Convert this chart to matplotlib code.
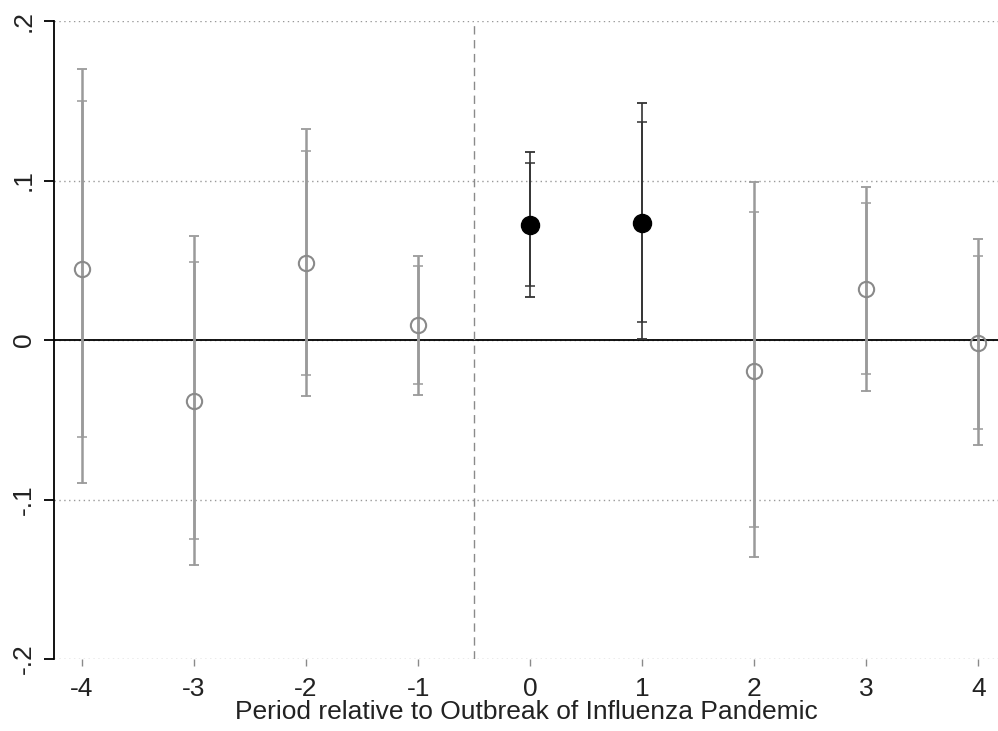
import matplotlib
matplotlib.use("Agg")
import matplotlib.pyplot as plt
import numpy as np

plt.rcParams['font.family'] = ['Liberation Sans', 'DejaVu Sans']

periods = [-4, -3, -2, -1, 0, 1, 2, 3, 4]
coef = [0.0447, -0.0380, 0.0483, 0.0094, 0.0723, 0.0736, -0.0192, 0.0320, -0.0017]
ci95_low = [-0.0895, -0.1410, -0.0353, -0.0345, 0.0270, 0.0006, -0.1363, -0.0320, -0.0658]
ci95_high = [0.1697, 0.0654, 0.1323, 0.0529, 0.1180, 0.1484, 0.0993, 0.0961, 0.0631]
ci90_low = [-0.0606, -0.1248, -0.0221, -0.0278, 0.0340, 0.0111, -0.1175, -0.0215, -0.0558]
ci90_high = [0.1500, 0.0491, 0.1187, 0.0464, 0.1108, 0.1369, 0.0803, 0.0861, 0.0529]
significant = [False, False, False, False, True, True, False, False, False]
y_ticks = [-0.2, -0.1, 0.0, 0.1, 0.2]
y_ticklabels = ['-.2', '-.1', '0', '.1', '.2']
xlabel = 'Period relative to Outbreak of Influenza Pandemic'

W, H = 998, 731
fig = plt.figure(figsize=(W / 100, H / 100), dpi=100)
ax = fig.add_axes([54 / W, 1 - 659 / H, 1 - 54 / W, (659 - 21) / H])

ax.set_xlim(-4.25, 4.175)
ax.set_ylim(-0.2, 0.2)

# gridlines
for yv in y_ticks:
    ax.axhline(yv, color='#999999', linestyle=(0, (1, 2.5)), linewidth=1.0, zorder=0)
ax.axhline(0, color='black', linewidth=1.3, zorder=1)
ax.axvline(-0.5, color='#8a8a8a', linestyle=(0, (6, 4)), linewidth=1.0, zorder=1)

for i, x in enumerate(periods):
    col = '#333333' if significant[i] else '#9a9a9a'
    lw = 1.2 if significant[i] else 1.8
    ax.errorbar([x], [coef[i]],
                yerr=[[coef[i] - ci95_low[i]], [ci95_high[i] - coef[i]]],
                fmt='none', ecolor=col, elinewidth=lw, capsize=3.8, capthick=1.3, zorder=2)
    ax.errorbar([x], [coef[i]],
                yerr=[[coef[i] - ci90_low[i]], [ci90_high[i] - coef[i]]],
                fmt='none', ecolor=col, elinewidth=lw, capsize=3.8, capthick=1.1, zorder=2)
    if significant[i]:
        ax.plot([x], [coef[i]], 'o', markersize=13, markerfacecolor='black',
                markeredgecolor='black', zorder=3)
    else:
        ax.plot([x], [coef[i]], 'o', markersize=11, markerfacecolor='none',
                markeredgecolor='#8a8a8a', markeredgewidth=1.5, zorder=3)

for s in ['top', 'right', 'bottom']:
    ax.spines[s].set_visible(False)
ax.spines['left'].set_color('black')
ax.spines['left'].set_linewidth(1.3)

ax.set_xticks(periods)
ax.set_xticklabels([str(p) for p in periods], fontsize=19)
ax.set_yticks(y_ticks)
ax.set_yticklabels(y_ticklabels, fontsize=19, rotation=90, va='center')
ax.tick_params(axis='x', length=5, width=1.0, color='#8a8a8a', pad=8, labelcolor='#222222')
ax.tick_params(axis='y', length=7, width=1.3, color='black', pad=6, labelcolor='#222222')
ax.set_xlabel(xlabel, fontsize=19, labelpad=-1, color='#222222')

fig.savefig('out.png', dpi=100)
